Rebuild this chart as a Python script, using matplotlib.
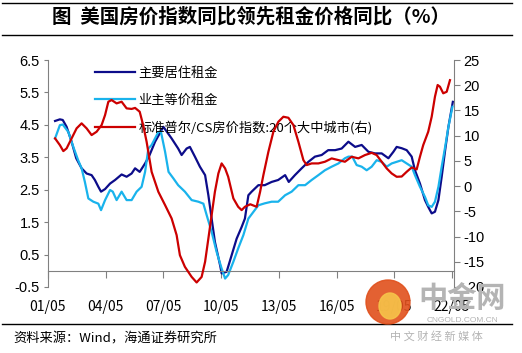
import matplotlib.pyplot as plt
from matplotlib.lines import Line2D
from matplotlib.patches import Ellipse

plt.rcParams['font.family'] = ['Noto Sans CJK SC', 'DejaVu Sans']

# 主要居住租金 (left axis, %)
rent_x = [2001.7, 2001.95, 2002.1, 2002.3, 2002.56, 2002.8, 2003.08, 2003.34, 2003.6, 2003.77,
          2003.95, 2004.09, 2004.3, 2004.56, 2004.82, 2005.16, 2005.42, 2005.68, 2005.86, 2006.1,
          2006.38, 2006.6, 2006.9, 2007.33, 2007.76, 2008.1, 2008.28, 2008.54, 2008.71, 2008.97,
          2009.23, 2009.5, 2009.67, 2009.84, 2010.01, 2010.28, 2010.36, 2010.62, 2010.88, 2011.14,
          2011.4, 2011.57, 2011.75, 2011.92, 2012.27, 2012.6, 2012.96, 2013.3, 2013.66, 2013.85,
          2014.17, 2014.52, 2014.87, 2015.21, 2015.56, 2015.9, 2016.26, 2016.6, 2016.95, 2017.3,
          2017.64, 2017.99, 2018.33, 2018.68, 2019.03, 2019.29, 2019.46, 2019.72, 2019.98, 2020.24,
          2020.41, 2020.67, 2020.93, 2021.1, 2021.28, 2021.45, 2021.63, 2021.8, 2021.98, 2022.15, 2022.38]
rent_y = [4.62, 4.67, 4.65, 4.44, 3.98, 3.47, 3.16, 3.0, 2.95, 2.80,
          2.59, 2.44, 2.52, 2.69, 2.80, 2.97, 2.90, 3.0, 3.16, 3.05,
          3.31, 3.55, 3.98, 4.44, 4.08, 3.77, 3.57, 3.77, 3.82, 3.52,
          3.21, 2.95, 2.33, 1.61, 0.89, 0.17, -0.08, -0.03, 0.48, 0.99,
          1.35, 1.61, 2.33, 2.44, 2.64, 2.64, 2.74, 2.80, 2.95, 2.74,
          2.95, 3.16, 3.36, 3.52, 3.57, 3.72, 3.72, 3.77, 3.98, 3.82,
          3.88, 3.67, 3.62, 3.62, 3.47, 3.67, 3.82, 3.78, 3.72, 3.52,
          3.1, 2.69, 2.18, 1.97, 1.77, 1.82, 2.18, 2.9, 3.72, 4.44, 5.21]

# 业主等价租金 (left axis, %)
oer_x = [2001.7, 2001.95, 2002.1, 2002.39, 2002.65, 2002.9, 2003.08, 2003.25, 2003.43, 2003.69,
         2003.95, 2004.09, 2004.3, 2004.56, 2004.7, 2004.9, 2005.16, 2005.42, 2005.68, 2005.94,
         2006.2, 2006.38, 2006.55, 2006.72, 2007.07, 2007.2, 2007.42, 2007.6, 2007.85, 2008.1,
         2008.45, 2008.8, 2009.15, 2009.41, 2009.58, 2009.84, 2010.1, 2010.36, 2010.54, 2010.7,
         2010.97, 2011.22, 2011.49, 2011.75, 2012.27, 2012.6, 2012.96, 2013.3, 2013.66, 2014.0,
         2014.35, 2014.7, 2015.04, 2015.39, 2015.73, 2016.08, 2016.43, 2016.77, 2016.95, 2017.15,
         2017.38, 2017.64, 2017.9, 2018.16, 2018.42, 2018.68, 2018.94, 2019.2, 2019.46, 2019.72,
         2019.98, 2020.24, 2020.41, 2020.67, 2020.93, 2021.1, 2021.28, 2021.45, 2021.63, 2021.8,
         2021.98, 2022.15, 2022.36]
oer_y = [4.08, 4.49, 4.51, 4.28, 3.82, 3.41, 3.16, 2.74, 2.23, 2.13,
         2.07, 1.87, 2.18, 2.49, 2.44, 2.18, 2.44, 2.18, 2.18, 2.44,
         2.59, 3.05, 3.77, 3.88, 4.28, 4.3, 3.67, 3.05, 2.85, 2.64,
         2.44, 2.18, 2.13, 2.07, 1.72, 1.2, 0.58, 0.07, -0.24, -0.13,
         0.28, 0.69, 1.1, 1.61, 2.02, 2.08, 2.13, 2.13, 2.33, 2.44,
         2.64, 2.64, 2.80, 2.95, 3.1, 3.21, 3.31, 3.47, 3.52, 3.52,
         3.26, 3.21, 3.1, 3.21, 3.41, 3.36, 3.21, 3.31, 3.36, 3.41,
         3.31, 3.21, 2.95, 2.59, 2.28, 2.02, 1.97, 2.13, 2.59, 3.21,
         3.82, 4.44, 5.06]

# 标准普尔/CS房价指数:20个大中城市 (right axis, %)
cs_x = [2001.7, 2001.95, 2002.13, 2002.3, 2002.56, 2002.82, 2003.08, 2003.34, 2003.6, 2003.86,
        2004.12, 2004.3, 2004.47, 2004.64, 2004.9, 2005.16, 2005.42, 2005.68, 2005.86, 2006.1,
        2006.28, 2006.46, 2006.72, 2007.07, 2007.42, 2007.76, 2008.02, 2008.19, 2008.45, 2008.8,
        2009.06, 2009.32, 2009.5, 2009.67, 2009.84, 2010.01, 2010.19, 2010.36, 2010.54, 2010.7,
        2010.97, 2011.22, 2011.4, 2011.57, 2011.85, 2012.18, 2012.36, 2012.53, 2012.79, 2013.05,
        2013.31, 2013.57, 2013.83, 2014.09, 2014.35, 2014.61, 2014.78, 2015.04, 2015.39, 2015.73,
        2016.08, 2016.43, 2016.77, 2017.12, 2017.47, 2017.81, 2018.16, 2018.42, 2018.68, 2018.94,
        2019.2, 2019.46, 2019.72, 2019.98, 2020.24, 2020.5, 2020.67, 2020.84, 2021.1, 2021.28,
        2021.45, 2021.59, 2021.71, 2021.88, 2022.06, 2022.23]
cs_y = [9.46, 8.13, 6.94, 7.48, 9.46, 11.45, 12.44, 11.45, 10.12, 10.78,
        12.1, 14.09, 16.73, 17.06, 16.4, 16.73, 15.41, 15.3, 15.5, 14.75,
        12.1, 8.79, 2.84, -1.13, -3.77, -6.41, -9.72, -13.69, -16.0, -17.99,
        -19.1, -18.0, -15.0, -10.4, -5.75, -1.13, 2.51, 4.5, 3.51, 1.86,
        -2.44, -4.1, -4.76, -4.1, -3.6, -4.1, -1.13, 2.18, 6.8, 10.78,
        12.76, 13.75, 13.55, 12.1, 8.79, 5.16, 4.17, 4.5, 4.5, 4.83,
        5.49, 5.16, 4.83, 5.82, 5.5, 6.15, 6.6, 6.15, 4.83, 3.51,
        2.51, 1.85, 1.9, 2.84, 3.7, 3.31, 5.82, 8.13, 10.78, 13.75,
        17.72, 20.04, 19.7, 18.4, 18.7, 21.0]

xtick_pos = [2001.333 + 3 * i for i in range(8)]
xtick_labels = ['01/05', '04/05', '07/05', '10/05', '13/05', '16/05', '19/05', '22/05']
left_ticks = [-0.5, 0.5, 1.5, 2.5, 3.5, 4.5, 5.5, 6.5]
right_ticks = [-20, -15, -10, -5, 0, 5, 10, 15, 20, 25]

fig = plt.figure(figsize=(5.22, 3.53), dpi=100)
ax = fig.add_axes([48 / 522, 1 - 287 / 353, (454 - 48) / 522, (287 - 60) / 353])
ax2 = ax.twinx()

navy = '#0c0c8a'
sky = '#19b3ec'
red = '#cc0000'

l1, = ax.plot(rent_x, rent_y, color=navy, lw=1.6, label='主要居住租金')
l2, = ax.plot(oer_x, oer_y, color=sky, lw=1.6, label='业主等价租金')
l3, = ax2.plot(cs_x, cs_y, color=red, lw=1.6, label='标准普尔/CS房价指数:20个大中城市(右)')

ax.set_xlim(2001.333, 2022.44)
ax.set_ylim(-0.5, 6.5)
ax2.set_ylim(-20, 25)

num_font = 'Liberation Sans'
ax.set_yticks(left_ticks)
ax.set_yticklabels([str(v) for v in left_ticks], fontsize=10.5, family=num_font)
ax2.set_yticks(right_ticks)
ax2.set_yticklabels([str(v) for v in right_ticks], fontsize=10.5, family=num_font)
ax.set_xticks(xtick_pos)
ax.set_xticklabels(xtick_labels, fontsize=10.5, family=num_font)

for a in (ax, ax2):
    a.spines['top'].set_visible(False)
    a.spines['bottom'].set_visible(False)
    a.spines['left'].set_color('#808080')
    a.spines['right'].set_color('#808080')
ax2.spines['left'].set_visible(False)
ax.spines['right'].set_visible(False)
ax.spines['bottom'].set_visible(True)
ax.spines['bottom'].set_position(('data', 0))
ax.spines['bottom'].set_color('#808080')
ax.tick_params(axis='y', direction='out', length=3, color='#808080', pad=3)
ax2.tick_params(axis='y', direction='out', length=4, color='#808080', pad=3)
ax.tick_params(axis='x', direction='out', length=5, color='#808080', pad=16)

ax.legend(handles=[l1, l2, l3], loc='upper left', bbox_to_anchor=(0.1, 1.0),
          frameon=False, fontsize=9.5, handlelength=3.0, handletextpad=0.3,
          labelspacing=1.05, borderaxespad=0.1)

fig.text(0.48, 1 - 17 / 353, '图  美国房价指数同比领先租金价格同比（%）', ha='center', va='center',
         fontsize=14, fontweight='bold')
fig.add_artist(Line2D([0.004, 0.98], [1 - 3 / 353, 1 - 3 / 353], color='black', lw=1.0))
fig.add_artist(Line2D([0.004, 0.98], [1 - 35 / 353, 1 - 35 / 353], color='black', lw=1.0))
fig.add_artist(Line2D([0.004, 0.98], [1 - 324 / 353, 1 - 324 / 353], color='black', lw=1.0))
fig.text(13 / 522, 1 - 339 / 353, '资料来源：Wind，海通证券研究所', ha='left', va='center', fontsize=9.5)

# watermark
fig.add_artist(Ellipse((388 / 522, 1 - 302 / 353), 44 / 522, 44 / 353, transform=fig.transFigure,
                       color='#e0501c', alpha=0.9, zorder=5))
fig.add_artist(Ellipse((390 / 522, 1 - 306 / 353), 22 / 522, 26 / 353, transform=fig.transFigure,
                       color='#f6c44a', alpha=0.9, zorder=5))
fig.text(462 / 522, 1 - 298 / 353, '中金网', ha='center', va='center', fontsize=21,
         fontweight='bold', color='#b4b4b4', zorder=6)
fig.text(462 / 522, 1 - 321 / 353, 'CNGOLD.COM.CN', ha='center', va='center', fontsize=6,
         color='#b4b4b4', family='Liberation Sans', zorder=6)
fig.text(436 / 522, 1 - 336 / 353, '中 文 财 经 新 媒 体', ha='center', va='center', fontsize=8,
         color='#b4b4b4', zorder=6)

fig.savefig('out.png', dpi=100)
